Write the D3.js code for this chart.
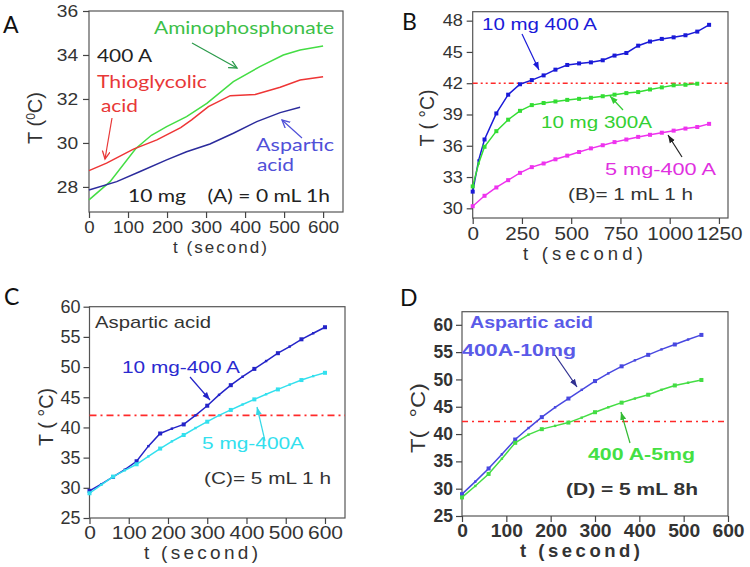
<!DOCTYPE html>
<html>
<head>
<meta charset="utf-8">
<script src="https://cdn.jsdelivr.net/npm/d3@7"></script>
<style>
body { margin: 0; background: #fff; }
svg { display: block; }
</style>
</head>
<body>
<script>
// ---- panel A : 10 mg, 0 mL, 1h (no markers)
var tAmino = [0, 54, 120, 160, 199, 250, 302, 370, 438, 498, 541, 600];
var amino  = [27.41, 28.24, 29.75, 30.35, 30.74, 31.2, 31.8, 32.79, 33.47, 34.0, 34.23, 34.41];
var tThio  = [0, 45, 114, 174, 235, 263, 306, 362, 426, 490, 541, 600];
var thio   = [28.74, 29.08, 29.72, 30.14, 30.7, 31.05, 31.65, 32.15, 32.2, 32.53, 32.86, 33.01];
var tAsp   = [0, 71, 131, 199, 250, 310, 370, 430, 490, 541];
var asp    = [27.86, 28.24, 28.7, 29.23, 29.6, 29.95, 30.44, 30.97, 31.38, 31.62];

// ---- panel B : 1 mL 1 h
var tBlueB  = [0, 30, 60, 120, 180, 240, 300, 360, 420, 480, 540, 600, 660, 720, 780, 840, 900, 960, 1020, 1080, 1140, 1200];
var blueB   = [31.6, 34.6, 36.6, 39.1, 40.9, 41.9, 42.3, 42.75, 43.3, 43.75, 43.9, 44.0, 44.2, 44.65, 44.9, 45.6, 46.0, 46.25, 46.4, 46.6, 46.95, 47.6];
var tGreenB = [0, 30, 60, 120, 180, 240, 300, 360, 420, 480, 540, 600, 660, 720, 780, 840, 900, 960, 1020, 1080, 1140];
var greenB  = [32.1, 34.3, 35.9, 37.4, 38.5, 39.35, 39.9, 40.1, 40.25, 40.4, 40.5, 40.6, 40.75, 40.9, 41.05, 41.15, 41.4, 41.6, 41.8, 41.85, 41.95];
var tMagB   = [0, 60, 120, 180, 240, 300, 360, 420, 480, 540, 600, 660, 720, 780, 840, 900, 960, 1020, 1080, 1140, 1200];
var magB    = [30.2, 31.2, 32.0, 32.7, 33.4, 33.95, 34.3, 34.7, 35.05, 35.4, 35.75, 36.05, 36.35, 36.6, 36.85, 37.05, 37.25, 37.45, 37.65, 37.8, 38.1];

// ---- panel C : 5 mL 1 h
var tC     = [0, 30, 60, 90, 120, 150, 180, 210, 240, 270, 300, 330, 360, 390, 420, 450, 480, 510, 540, 570, 600];
var blueC  = [29.5, 30.6, 31.8, 33.0, 34.4, 36.9, 39.0, 39.8, 40.5, 42.0, 43.6, 45.4, 47.0, 48.4, 49.7, 51.0, 52.3, 53.4, 54.6, 55.6, 56.6];
var cyanC  = [29.1, 30.5, 31.85, 32.9, 33.9, 35.2, 36.5, 37.7, 38.75, 39.9, 40.95, 42.0, 42.9, 43.8, 44.65, 45.5, 46.3, 47.1, 47.85, 48.5, 49.05];

// ---- panel D : 5 mL 8h
var tD     = [0, 30, 60, 90, 120, 150, 180, 210, 240, 270, 300, 330, 360, 390, 420, 450, 480, 510, 540];
var blueD  = [29.0, 31.3, 33.7, 36.3, 39.0, 41.1, 43.1, 44.9, 46.5, 48.1, 49.7, 51.1, 52.4, 53.5, 54.5, 55.5, 56.4, 57.3, 58.15];
var greenD = [28.4, 30.5, 32.7, 35.5, 38.4, 39.9, 40.9, 41.5, 42.1, 43.0, 44.0, 44.9, 45.75, 46.5, 47.2, 48.1, 48.9, 49.4, 49.9];

// tick values
var ticks600   = [0, 100, 200, 300, 400, 500, 600];
var minor600   = [50, 150, 250, 350, 450, 550];
var ticks1250  = [0, 250, 500, 750, 1000, 1250];
var minor1250  = [125, 375, 625, 875, 1125];
var yTicksA = [28, 30, 32, 34, 36],  yMinorA = [27, 29, 31, 33, 35];
var yTicksB = [30, 33, 36, 39, 42, 45, 48], yMinorB = [31.5, 34.5, 37.5, 40.5, 43.5, 46.5];
var yTicks5 = [25, 30, 35, 40, 45, 50, 55, 60], yMinor5 = [27.5, 32.5, 37.5, 42.5, 47.5, 52.5, 57.5];

var SANS = "'Liberation Sans', Arial, sans-serif";
var CAL = "Lato, 'Open Sans', sans-serif";

var svg = d3.select("body").append("svg").attr("width", 750).attr("height", 567);
var defs = svg.append("defs");

function arrowHead(id, color, open) {
  var m = defs.append("marker").attr("id", id)
    .attr("markerUnits", "userSpaceOnUse")
    .attr("markerWidth", 10).attr("markerHeight", 10)
    .attr("refX", 8).attr("refY", 4).attr("orient", "auto");
  if (open)
    m.append("path").attr("d", "M0,0 L8,4 L0,8").attr("fill", "none").attr("stroke", color).attr("stroke-width", 1.3);
  else
    m.append("path").attr("d", "M0,1 L8,4 L0,7 z").attr("fill", color);
}

function txt(g, s, x, y, o) {
  var t = g.append("text").attr("x", x).attr("y", y).text(s)
    .attr("font-family", o.font || SANS)
    .attr("font-size", o.size || 17)
    .attr("fill", o.color || "#333");
  if (o.w) t.attr("textLength", o.w).attr("lengthAdjust", o.adjust || "spacingAndGlyphs");
  if (o.anchor) t.attr("text-anchor", o.anchor);
  if (o.weight) t.attr("font-weight", o.weight);
  return t;
}

function arrow(g, x1, y1, x2, y2, color, id) {
  g.append("line").attr("x1", x1).attr("y1", y1).attr("x2", x2).attr("y2", y2)
    .attr("stroke", color).attr("stroke-width", 1.2)
    .attr("marker-end", "url(#" + id + ")");
}

function panel(p) {
  var g = svg.append("g");
  var x = d3.scaleLinear().domain(p.xDomain).range([p.left, p.right]);
  var y = d3.scaleLinear().domain(p.yDomain).range([p.bottom, p.top]);

  g.append("rect").attr("x", p.left).attr("y", p.top)
    .attr("width", p.right - p.left).attr("height", p.bottom - p.top)
    .attr("fill", "none").attr("stroke", "#555").attr("stroke-width", 1.2);

  var gx = g.append("g").attr("transform", "translate(0," + p.bottom + ")");
  gx.call(d3.axisBottom(x).tickValues(p.xMinor).tickSize(3).tickFormat(""));
  gx.call(d3.axisBottom(x).tickValues(p.xTicks).tickSize(6).tickPadding(3).tickFormat(d3.format("d")));
  gx.selectAll(".domain").remove();
  gx.selectAll("line").attr("stroke", "#444").attr("stroke-width", 1.2);
  gx.selectAll("text").attr("font-family", SANS).attr("font-size", p.xs)
    .attr("fill", "#333").attr("font-weight", p.weight || "normal")
    .attr("transform", "scale(" + p.xsx + ",1)");

  var gy = g.append("g").attr("transform", "translate(" + p.left + ",0)");
  gy.call(d3.axisLeft(y).tickValues(p.yMinor).tickSize(3).tickFormat(""));
  gy.call(d3.axisLeft(y).tickValues(p.yTicks).tickSize(6).tickPadding(3).tickFormat(d3.format("d")));
  gy.selectAll(".domain").remove();
  gy.selectAll("line").attr("stroke", "#444").attr("stroke-width", 1.2);
  gy.selectAll("text").attr("font-family", SANS).attr("font-size", p.ys)
    .attr("fill", "#333").attr("font-weight", p.weight || "normal")
    .attr("transform", "scale(" + p.ysx + ",1)");

  if (p.ref !== undefined) {
    g.append("line").attr("x1", p.left).attr("x2", p.right)
      .attr("y1", y(p.ref)).attr("y2", y(p.ref))
      .attr("stroke", "#ff2a2a").attr("stroke-width", 1.6)
      .attr("stroke-dasharray", p.dash);
  }

  var line = d3.line().x(function(d) { return x(d[0]); }).y(function(d) { return y(d[1]); });
  p.series.forEach(function(s) {
    var pts = d3.zip(s.t, s.v);
    g.append("path").datum(pts).attr("d", line)
      .attr("fill", "none").attr("stroke", s.color).attr("stroke-width", s.width || 1.5);
    if (s.marks) {
      g.selectAll(null).data(pts).enter().append("rect")
        .attr("x", function(d) { return x(d[0]) - (d[0] % 60 === 0 ? 2 : 1.2); })
        .attr("y", function(d) { return y(d[1]) - (d[0] % 60 === 0 ? 2 : 1.2); })
        .attr("width", function(d) { return d[0] % 60 === 0 ? 4 : 2.4; })
        .attr("height", function(d) { return d[0] % 60 === 0 ? 4 : 2.4; })
        .attr("fill", s.color);
    }
  });

  // x axis title, letter-spaced like the original
  txt(g, "t (second)", p.xt[0], p.xt[1], { size: p.xts, w: p.xtw, adjust: "spacing", anchor: "middle", weight: p.titleWeight });
  return g;
}

// ===== A =====
var gA = panel({
  left: 89, right: 343, top: 11, bottom: 212,
  xDomain: [0, 651], yDomain: [26.86, 36],
  xTicks: ticks600, xMinor: minor600, yTicks: yTicksA, yMinor: yMinorA,
  xs: 17, xsx: 1.1, ys: 16, ysx: 1.2,
  xt: [220, 253], xts: 17, xtw: 94,
  series: [
    { t: tAmino, v: amino, color: "#44dd44" },
    { t: tThio, v: thio, color: "#ee3535" },
    { t: tAsp, v: asp, color: "#2b2b9c" }
  ]
});
var yA = gA.append("text").attr("font-family", SANS).attr("font-size", 20).attr("fill", "#333")
  .attr("text-anchor", "middle").attr("transform", "translate(42,118) rotate(-90)");
yA.append("tspan").text("T (");
yA.append("tspan").text("0").attr("font-size", 12).attr("dy", -7);
yA.append("tspan").text("C)").attr("dy", 7);

arrowHead("ahGreenA", "#2a9a4a", true);
arrowHead("ahRedA", "#e83838", true);
arrowHead("ahBlueA", "#5050d8", true);
txt(gA, "Aminophosphonate", 154, 34, { font: CAL, size: 18, w: 180, color: "#3cc048" });
arrow(gA, 192, 43, 237, 68, "#2a9a4a", "ahGreenA");
txt(gA, "400 A", 97, 62, { font: CAL, size: 18, w: 55, color: "#222" });
txt(gA, "Thioglycolic", 97, 88, { font: CAL, size: 18, w: 110, color: "#e83838" });
txt(gA, "acid", 101, 112, { font: CAL, size: 18, w: 37, color: "#e83838" });
arrow(gA, 112, 118, 105, 159, "#e83838", "ahRedA");
txt(gA, "Aspartic", 256, 151, { font: CAL, size: 17, w: 78, color: "#5050d8" });
txt(gA, "acid", 257, 171, { font: CAL, size: 17, w: 37, color: "#5050d8" });
arrow(gA, 302, 138, 282, 120, "#5050d8", "ahBlueA");
txt(gA, "10 mg    (A) = 0 mL 1h", 128, 202, { font: CAL, size: 18, w: 202, color: "#222" }).attr("xml:space", "preserve");

// ===== B =====
var gB = panel({
  left: 472.7, right: 728, top: 11.7, bottom: 218,
  xDomain: [0, 1296], yDomain: [29.07, 48.86],
  xTicks: ticks1250, xMinor: minor1250, yTicks: yTicksB, yMinor: yMinorB,
  xs: 18, xsx: 1.15, ys: 16.5, ysx: 1.1,
  xt: [583, 260], xts: 18.5, xtw: 120,
  ref: 42, dash: "5,3,2,3,2,3",
  series: [
    { t: tBlueB, v: blueB, color: "#1a1ad8", marks: true },
    { t: tGreenB, v: greenB, color: "#33dd33", marks: true },
    { t: tMagB, v: magB, color: "#ee33ee", marks: true }
  ]
});
txt(gB, "T ( °C)", 0, 0, { size: 20, w: 57, anchor: "middle" })
  .attr("transform", "translate(434,118) rotate(-90)");
arrowHead("ahBlueB", "#1a1ad8");
arrowHead("ahGreenB", "#33cc33");
arrowHead("ahBlackB", "#222");
txt(gB, "10 mg 400 A", 482, 30, { size: 17, w: 115, color: "#1a1ad8" });
arrow(gB, 522, 34, 539, 70, "#1a1ad8", "ahBlueB");
txt(gB, "10 mg 300A", 541, 128, { size: 17, w: 111, color: "#33d033" });
arrow(gB, 623, 110, 610, 96, "#33cc33", "ahGreenB");
txt(gB, "5 mg-400 A", 605, 175, { size: 17, w: 111, color: "#e030e0" });
arrow(gB, 682, 157, 668, 135, "#222", "ahBlackB");
txt(gB, "(B)= 1 mL 1 h", 568, 200, { size: 17, w: 125, color: "#333" });

// ===== C =====
var gC = panel({
  left: 89.5, right: 345, top: 306.7, bottom: 518,
  xDomain: [0, 651], yDomain: [25, 60],
  xTicks: ticks600, xMinor: minor600, yTicks: yTicks5, yMinor: yMinor5,
  xs: 17.5, xsx: 1.2, ys: 18, ysx: 1.0,
  xt: [201, 559], xts: 19, xtw: 114,
  ref: 42, dash: "7,4,2,4",
  series: [
    { t: tC, v: blueC, color: "#2424c8", marks: true },
    { t: tC, v: cyanC, color: "#33e0ee", marks: true }
  ]
});
txt(gC, "T ( °C)", 0, 0, { size: 20, w: 58, anchor: "middle" })
  .attr("transform", "translate(53,417) rotate(-90)");
arrowHead("ahBlueC", "#2424c8");
arrowHead("ahCyanC", "#33d8e6");
txt(gC, "Aspartic acid", 95, 328, { size: 17, w: 116, color: "#333" });
txt(gC, "10 mg-400 A", 122, 373, { size: 17, w: 118, color: "#2a2ad0" });
arrow(gC, 190, 377, 210, 400, "#2424c8", "ahBlueC");
txt(gC, "5 mg-400A", 202, 449, { size: 17, w: 102, color: "#33e0ee" });
arrow(gC, 265, 441, 257, 407, "#33d8e6", "ahCyanC");
txt(gC, "(C)= 5 mL 1 h", 204, 484, { size: 17, w: 127, color: "#333" });

// ===== D =====
var gD = panel({
  left: 462, right: 728, top: 311.7, bottom: 516,
  xDomain: [0, 600], yDomain: [25, 62.4],
  xTicks: ticks600, xMinor: minor600, yTicks: yTicks5, yMinor: yMinor5,
  xs: 17.5, xsx: 1.1, ys: 17.5, ysx: 1.0, weight: "bold", titleWeight: "bold",
  xt: [580, 557], xts: 18.5, xtw: 120,
  ref: 42.3, dash: "6,4,2,4",
  series: [
    { t: tD, v: blueD, color: "#4848e0", marks: true },
    { t: tD, v: greenD, color: "#44dd44", marks: true }
  ]
});
txt(gD, "T(  °C)", 0, 0, { size: 20, w: 70, anchor: "middle" })
  .attr("transform", "translate(425,418) rotate(-90)").attr("xml:space", "preserve");
arrowHead("ahBlueD", "#303090");
arrowHead("ahGreenD", "#33bb33");
txt(gD, "Aspartic acid", 470, 328, { size: 17, w: 123, color: "#5a5ae8", weight: "bold" });
txt(gD, "400A-10mg", 462, 356, { size: 17, w: 114, color: "#5a5ae8", weight: "bold" });
arrow(gD, 555, 355, 577, 387, "#303090", "ahBlueD");
txt(gD, "400 A-5mg", 588, 460, { size: 17, w: 107, color: "#44e044", weight: "bold" });
arrow(gD, 630, 443, 621, 412, "#33bb33", "ahGreenD");
txt(gD, "(D) = 5 mL 8h", 566, 495, { size: 17, w: 132, color: "#333", weight: "bold" });

// panel letters
txt(svg, "A", 3, 33, { font: CAL, size: 23, color: "#111" });
txt(svg, "B", 402, 30, { font: CAL, size: 23, color: "#111" });
txt(svg, "C", 4, 305, { font: CAL, size: 23, color: "#111" });
txt(svg, "D", 400, 306, { font: CAL, size: 23, color: "#111" });
</script>
</body>
</html>
